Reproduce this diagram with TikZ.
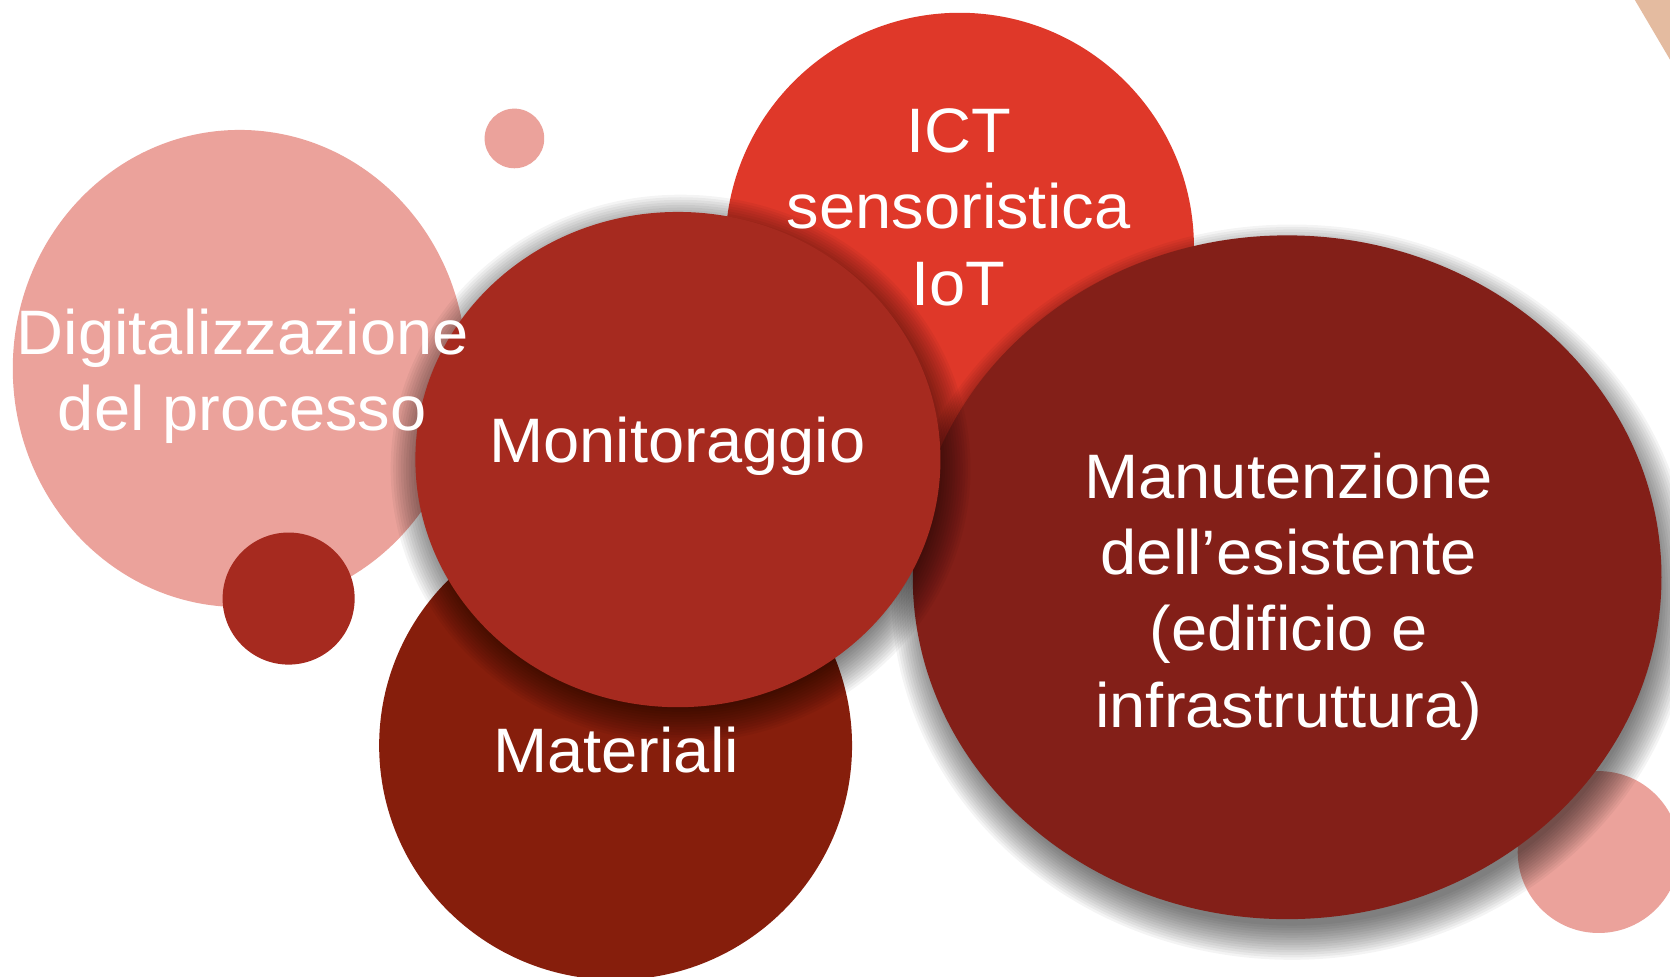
\documentclass[tikz,border=0pt]{standalone}
\usepackage{fontspec}
\usepackage{graphicx}
\setmainfont{Liberation Sans}
\usetikzlibrary{shapes.geometric}
\definecolor{pinkc}{HTML}{EBA29B}
\definecolor{ictc}{HTML}{DF3829}
\definecolor{monc}{HTML}{A62A1F}
\definecolor{matc}{HTML}{861E0C}
\definecolor{manc}{HTML}{831F18}
\definecolor{triac}{HTML}{E4BBA0}
\newcommand{\wide}[1]{\scalebox{1.035}[1]{#1}}
\begin{document}
\begin{tikzpicture}[x=1pt,y=-1pt,
  blob/.style={ellipse, inner sep=0pt, outer sep=0pt, draw=none},
  lbl/.style={anchor=base, text=white, font=\fontsize{59}{72}\selectfont, inner sep=0pt}]
\useasboundingbox (0,0) rectangle (1568,917);
\fill[white] (0,0) rectangle (1568,917);
% corner triangle
\fill[triac] (1535,0) -- (1568,0) -- (1568,56) -- cycle;
% background circles
\node[blob, fill=pinkc, minimum width=426pt, minimum height=448pt] (dig) at (225,346) {};
\node[blob, fill=pinkc, minimum size=56pt] (dot) at (483,130) {};
\node[blob, fill=monc, minimum size=124pt] (dark) at (271,562) {};
\node[blob, fill=ictc, minimum size=440pt] (ict) at (901,232) {};
\node[blob, fill=pinkc, minimum size=152pt] (pinkbr) at (1501,800) {};
% shadow of Manutenzione
\foreach \k in {0,...,14} {
  \fill[black, opacity=0.042] (1213,556) ellipse [x radius={344pt+2.3pt*\k}, y radius={313pt+2.3pt*\k}];
}
\node[blob, fill=manc, minimum width=703pt, minimum height=642pt] (man) at (1208.5,542) {};
\node[blob, fill=matc, minimum width=444pt, minimum height=440pt] (mat) at (578,700) {};
% shadow of Monitoraggio
\foreach \k in {0,...,13} {
  \fill[black, opacity=0.045] (639,440) ellipse [x radius={241pt+2.4pt*\k}, y radius={226pt+2.4pt*\k}];
}
\node[blob, fill=monc, minimum width=493pt, minimum height=465pt] (mon) at (636.5,431.5) {};
% labels
\node[lbl] (dig1) at (228,333) {\wide{Digitalizzazione}};
\node[lbl] (dig2) at (227.5,404) {\wide{del processo}};
\node[lbl] (ict1) at (900,143.5) {\wide{ICT}};
\node[lbl] (ict2) at (900,215) {\wide{sensoristica}};
\node[lbl] (ict3) at (900,286.5) {\wide{IoT}};
\node[lbl] (mon1) at (636,434) {\wide{Monitoraggio}};
\node[lbl] (mat1) at (578.5,725) {\wide{Materiali}};
\node[lbl] (man1) at (1210,468) {\wide{Manutenzione}};
\node[lbl] (man2) at (1210,539) {\wide{dell’esistente}};
\node[lbl] (man3) at (1210,611) {\wide{(edificio e}};
\node[lbl] (man4) at (1210,683) {\wide{infrastruttura)}};
\end{tikzpicture}
\end{document}
